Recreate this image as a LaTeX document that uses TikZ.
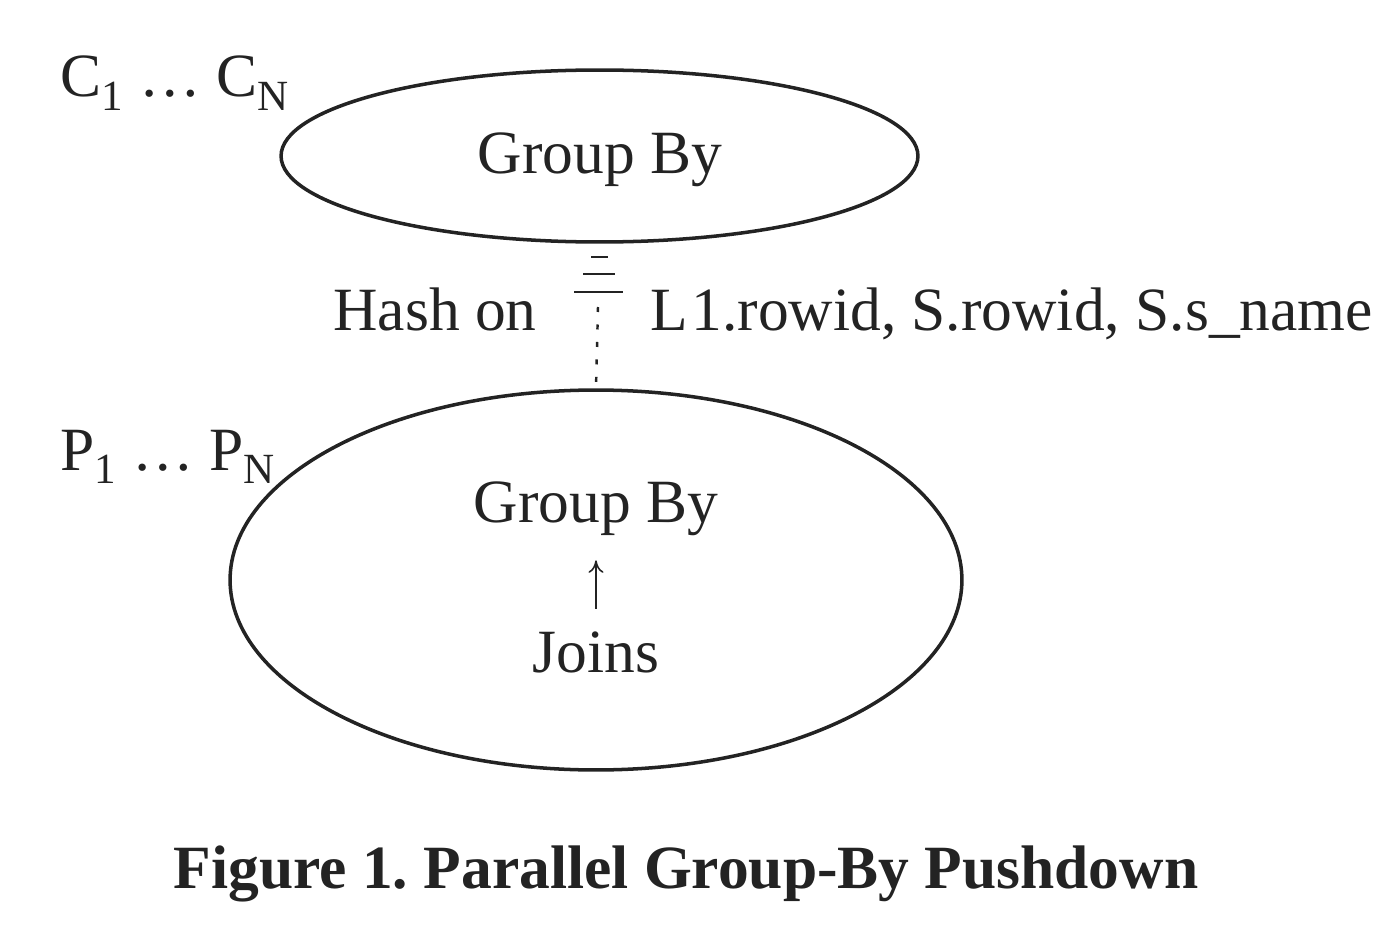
\documentclass[tikz,border=0pt]{standalone}
\usepackage{fontspec}
\setmainfont{Liberation Serif}
\usetikzlibrary{arrows.meta,positioning,shapes.geometric}
\definecolor{ink}{RGB}{35,35,35}
\tikzset{
  op/.style={ellipse,draw=ink,line width=2pt,inner sep=0pt,
    minimum width=#1},
  lbl/.style={font=\fontsize{35}{40}\selectfont,text=ink,inner sep=0pt},
  captxt/.style={font=\fontsize{35}{40}\selectfont\bfseries,text=ink,inner sep=0pt},
  hashline/.style={draw=ink,line width=1.4pt,dash pattern=on 0.1cm off 0.25cm},
  bar/.style={draw=ink,line width=1.3pt}
}
\begin{document}
\frenchspacing
\begin{tikzpicture}[x=0.02cm,y=-0.02cm]
  \useasboundingbox (0,0) rectangle (1400,936);
  % consumer and producer operators
  \node[op=12.74cm,minimum height=3.44cm] (cons) at (599.5,156) {};
  \node[op=14.64cm,minimum height=7.6cm] (prod) at (596,580) {};
  \node[lbl] (cgb) at (600,160) {Group By};
  \node[lbl] (pgb) at (596,509) {Group By};
  \node[lbl] (join) at (596,652) {Joins};
  \draw[-{To[length=2.5mm,width=3mm]},ink,line width=0.9pt,
    shorten <=0.44cm,shorten >=0.48cm] (join.north) -- (pgb.south);
  % labels
  \node[lbl,anchor=base west] (cset) at (60,97) {C\textsubscript{1} … C\textsubscript{N}};
  \node[lbl,anchor=base west] (pset) at (60,470) {P\textsubscript{1} … P\textsubscript{N}};
  \node[lbl,anchor=base east] (hash) at (537,330) {Hash on};
  \node[lbl,anchor=base west] (keys) at (650,330) {L\kern2pt1.rowid, S.rowid, S.s\_name};
  % redistribution
  \draw[bar] (591,257) -- (608,257);
  \draw[bar] (583,274) -- (615,274);
  \draw[bar] (574,292) -- (623,292);
  \draw[hashline] (598,307) -- (prod.north);
  % caption
  \node[captxt] (title) at (686,874) {Figure 1. Parallel Group-By Pushdown};
\end{tikzpicture}
\end{document}
